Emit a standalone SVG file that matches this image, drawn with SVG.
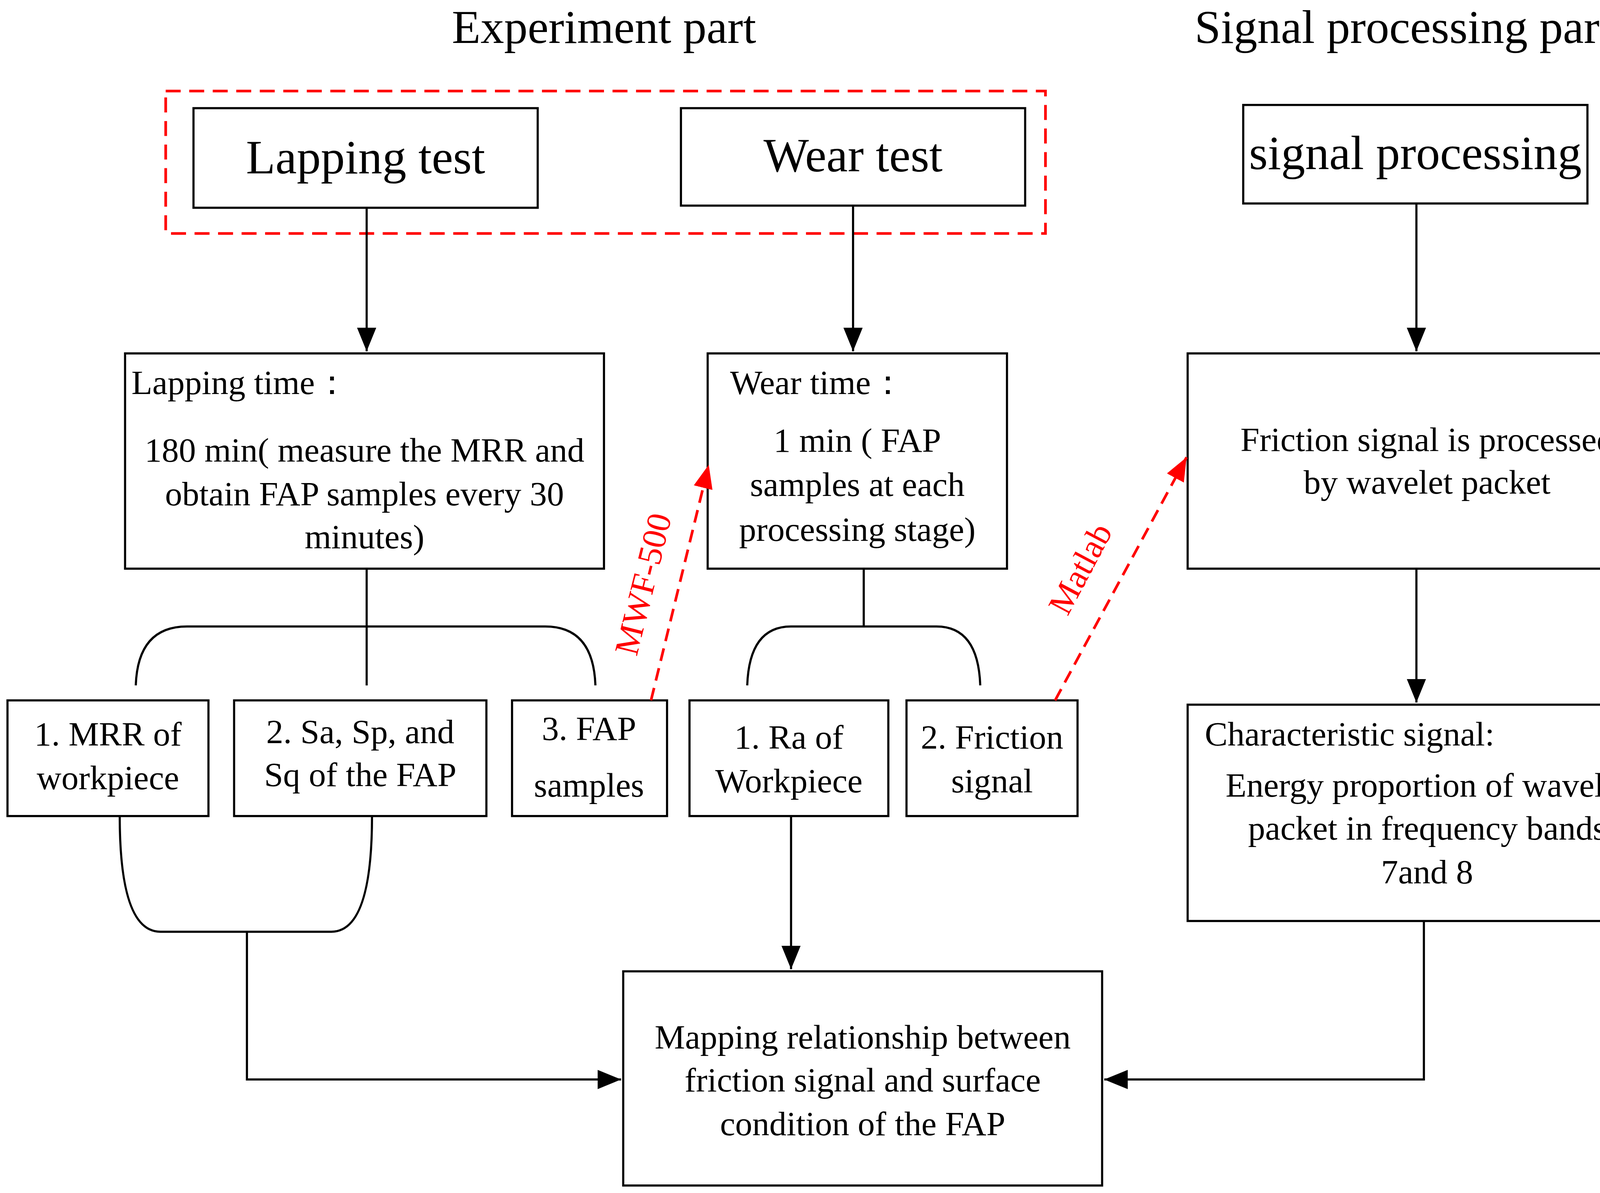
<svg xmlns="http://www.w3.org/2000/svg" width="4291" height="3055" viewBox="0 0 4291 3055">
<defs>
<style>
.b{fill:#fff;stroke:#000;stroke-width:2}
.l{fill:none;stroke:#000;stroke-width:2}
.r{fill:none;stroke:#f00;stroke-width:2.5;stroke-dasharray:12 7}
text{font-family:"Liberation Serif","Times New Roman",serif;fill:#000}
.t{font-size:44px;text-anchor:middle}
.h{font-size:45px;text-anchor:middle}
.s{font-size:32px}
.c{text-anchor:middle}
.rt{font-size:32px;fill:#f00;text-anchor:middle}
</style>
<marker id="a" viewBox="0 0 22 18" refX="22" refY="9" markerWidth="22" markerHeight="18" markerUnits="userSpaceOnUse" orient="auto"><path d="M0,0L22,9L0,18z" fill="#000"/></marker>
<marker id="ar" viewBox="0 0 22 18" refX="22" refY="9" markerWidth="22" markerHeight="18" markerUnits="userSpaceOnUse" orient="auto"><path d="M0,0L22,9L0,18z" fill="#f00"/></marker>
</defs>
<rect width="4291" height="3055" fill="#fff"/>
<g transform="scale(2.7366 2.7424)">
<text class="t" x="565" y="40">Experiment part</text>
<text class="t" x="1313" y="40">Signal processing part</text>
<rect x="155" y="85" width="823" height="133" fill="none" stroke="#f00" stroke-width="2.5" stroke-dasharray="14 8"/>
<g id="lapping"><rect class="b" x="181" y="101" width="322" height="93"/><text class="h" x="342" y="162">Lapping test</text></g>
<g id="wear"><rect class="b" x="637" y="101" width="322" height="91"/><text class="h" x="798" y="160">Wear test</text></g>
<g id="sigproc"><rect class="b" x="1163" y="98" width="322" height="92"/><text class="h" x="1324" y="158">signal processing</text></g>
<g id="laptime"><rect class="b" x="117" y="330" width="448" height="201"/>
<text class="s" x="123" y="368">Lapping time：</text>
<text class="s c" x="341" y="431">180 min( measure the MRR and</text>
<text class="s c" x="341" y="472">obtain FAP samples  every 30</text>
<text class="s c" x="341" y="512">minutes)</text></g>
<g id="weartime"><rect class="b" x="662" y="330" width="280" height="201"/>
<text class="s" x="683" y="368">Wear time：</text>
<text class="s c" x="802" y="422">1 min ( FAP</text>
<text class="s c" x="802" y="463">samples at each</text>
<text class="s c" x="802" y="505">processing  stage)</text></g>
<g id="friction"><rect class="b" x="1111" y="330" width="448" height="201"/>
<text class="s c" x="1335" y="421">Friction signal is processed</text>
<text class="s c" x="1335" y="461">by wavelet packet</text></g>
<g id="mrr"><rect class="b" x="7" y="654" width="188" height="108"/><text class="s c" x="101" y="696">1. MRR of</text><text class="s c" x="101" y="737">workpiece</text></g>
<g id="sa"><rect class="b" x="219" y="654" width="236" height="108"/><text class="s c" x="337" y="694">2. Sa, Sp, and</text><text class="s c" x="337" y="734">Sq of the FAP</text></g>
<g id="fap"><rect class="b" x="479" y="654" width="145" height="108"/><text class="s c" x="551" y="691">3. FAP</text><text class="s c" x="551" y="744">samples</text></g>
<g id="ra"><rect class="b" x="645" y="654" width="186" height="108"/><text class="s c" x="738" y="699">1. Ra of</text><text class="s c" x="738" y="740">Workpiece</text></g>
<g id="fs"><rect class="b" x="848" y="654" width="160" height="108"/><text class="s c" x="928" y="699">2. Friction</text><text class="s c" x="928" y="740">signal</text></g>
<g id="char"><rect class="b" x="1111" y="658" width="448" height="202"/>
<text class="s" x="1127" y="696">Characteristic signal:</text>
<text class="s c" x="1335" y="744">Energy proportion of wavelet</text>
<text class="s c" x="1335" y="784">packet in frequency bands</text>
<text class="s c" x="1335" y="825">7and 8</text></g>
<g id="mapping"><rect class="b" x="583" y="907" width="448" height="200"/>
<text class="s c" x="807" y="979">Mapping relationship between</text>
<text class="s c" x="807" y="1019">friction signal and surface</text>
<text class="s c" x="807" y="1060">condition of the FAP</text></g>
<g id="connectors">
<path class="l" d="M343,194V328" marker-end="url(#a)"/>
<path class="l" d="M798,192V328" marker-end="url(#a)"/>
<path class="l" d="M1325,190V328" marker-end="url(#a)"/>
<path class="l" d="M343,531V640M127,640Q129,585 175,585H510Q555,585 557,640"/>
<path class="l" d="M808,531V585M699,640Q701,585 740,585H876Q915,585 917,640"/>
<path class="l" d="M112,762Q112,870 150,870H310Q348,870 348,762M231,870V1008H581" marker-end="url(#a)"/>
<path class="l" d="M740,762V905" marker-end="url(#a)"/>
<path class="l" d="M1325,531V656" marker-end="url(#a)"/>
<path class="l" d="M1332,860V1008H1033" marker-end="url(#a)"/>
<path class="r" d="M609,654L663,434" marker-end="url(#ar)"/>
<path class="r" d="M987,654L1110,427" marker-end="url(#ar)"/>
<text class="rt" transform="translate(612,548) rotate(-76)">MWF-500</text>
<text class="rt" transform="translate(1020,536) rotate(-62)">Matlab</text>
</g>
</g>
</svg>
